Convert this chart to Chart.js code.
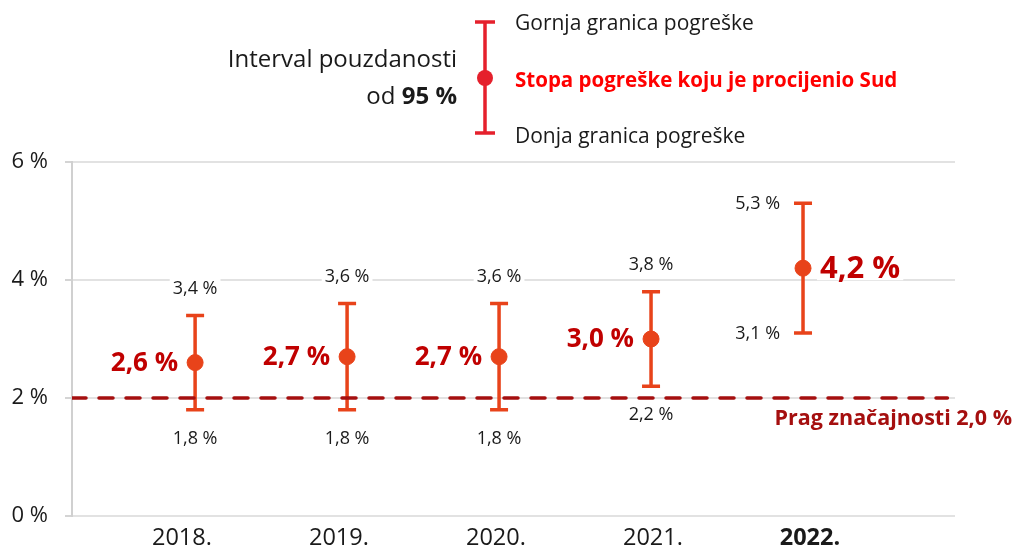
<!DOCTYPE html>
<html>
<head>
<meta charset="utf-8">
<script src="https://cdn.jsdelivr.net/npm/chart.js@4"></script>
<style>
  html, body { margin: 0; padding: 0; background: #fff; }
  canvas { display: block; }
</style>
</head>
<body>
<canvas id="errorRateChart" width="1016" height="548"></canvas>
<script>
// data
const years = ['2018.', '2019.', '2020.', '2021.', '2022.'];
const estimate = [2.6, 2.7, 2.7, 3.0, 4.2];
const lowerLimit = [1.8, 1.8, 1.8, 2.2, 3.1];
const upperLimit = [3.4, 3.6, 3.6, 3.8, 5.3];
const yTicks = [0, 2, 4, 6];
const threshold = 2.0;

const legendTexts = {
    intervalLine1: 'Interval pouzdanosti',
    intervalLine2a: 'od ',
    intervalLine2b: '95 %',
    upper: 'Gornja granica pogreške',
    estimate: 'Stopa pogreške koju je procijenio Sud',
    lower: 'Donja granica pogreške',
    threshold: 'Prag značajnosti 2,0 %'
};

const FONT = "'Open Sans', 'Noto Sans', sans-serif";
const barColor = '#e8431a';
const valueColor = '#c00000';
const thresholdColor = '#a50f0f';
const legendRed = '#e5202c';

// the points and the year labels sit on slightly different spacings in the original
const xMin = -0.81;
const xMax = 5.0;
const labelMin = -0.70;
const labelMax = 4.924;

function fmt(v) {
    return v.toFixed(1).replace('.', ',') + ' %';
}

function labelWithBg(ctx, text, x, y, align, color) {
    const w = ctx.measureText(text).width;
    let left = x;
    if (align === 'center') left = x - w / 2;
    if (align === 'right') left = x - w;
    ctx.fillStyle = '#fff';
    ctx.fillRect(left - 3, y - 11, w + 6, 22);
    ctx.fillStyle = color;
    ctx.textAlign = align;
    ctx.fillText(text, x, y);
}

// error bars under the points, labels on top
const errorBarPlugin = {
    id: 'errorBars',
    beforeDatasetsDraw(chart) {
        const { ctx, scales: { x, y } } = chart;
        ctx.save();
        ctx.strokeStyle = barColor;
        ctx.lineWidth = 3.5;
        years.forEach((yr, i) => {
            const px = x.getPixelForValue(i);
            const top = y.getPixelForValue(upperLimit[i]);
            const bot = y.getPixelForValue(lowerLimit[i]);
            ctx.beginPath();
            ctx.moveTo(px, top);
            ctx.lineTo(px, bot);
            ctx.moveTo(px - 9, top);
            ctx.lineTo(px + 9, top);
            ctx.moveTo(px - 9, bot);
            ctx.lineTo(px + 9, bot);
            ctx.stroke();
        });
        ctx.restore();
    },
    afterDatasetsDraw(chart) {
        const { ctx, scales: { x, y } } = chart;
        ctx.save();
        ctx.textBaseline = 'middle';
        const last = years.length - 1;
        years.forEach((yr, i) => {
            const px = x.getPixelForValue(i);
            const top = y.getPixelForValue(upperLimit[i]);
            const bot = y.getPixelForValue(lowerLimit[i]);
            const mid = y.getPixelForValue(estimate[i]);

            ctx.font = '18px ' + FONT;
            if (i === last) {
                labelWithBg(ctx, fmt(upperLimit[i]), px - 23, top + 1, 'right', '#1a1a1a');
                labelWithBg(ctx, fmt(lowerLimit[i]), px - 23, bot + 1, 'right', '#1a1a1a');
                ctx.font = 'bold 31px ' + FONT;
                labelWithBg(ctx, fmt(estimate[i]), px + 17, mid + 1, 'left', valueColor);
            } else {
                labelWithBg(ctx, fmt(upperLimit[i]), px, top - 27, 'center', '#1a1a1a');
                labelWithBg(ctx, fmt(lowerLimit[i]), px, bot + 29, 'center', '#1a1a1a');
                ctx.font = 'bold 26px ' + FONT;
                labelWithBg(ctx, fmt(estimate[i]), px - 17, mid + 1, 'right', valueColor);
            }
        });

        // threshold label
        ctx.font = 'bold 21.5px ' + FONT;
        ctx.fillStyle = thresholdColor;
        ctx.textAlign = 'right';
        ctx.fillText(legendTexts.threshold, 1012, y.getPixelForValue(threshold) + 21);
        ctx.restore();
    },
    afterDraw(chart) {
        const { ctx } = chart;
        ctx.save();
        ctx.textBaseline = 'middle';

        // legend text on the left
        ctx.fillStyle = '#1a1a1a';
        ctx.textAlign = 'right';
        ctx.font = '24px ' + FONT;
        ctx.fillText(legendTexts.intervalLine1, 457, 60);
        ctx.font = 'bold 24px ' + FONT;
        const boldW = ctx.measureText(legendTexts.intervalLine2b).width;
        ctx.fillText(legendTexts.intervalLine2b, 457, 97);
        ctx.font = '24px ' + FONT;
        ctx.fillText(legendTexts.intervalLine2a, 457 - boldW, 97);

        // legend symbol
        ctx.strokeStyle = legendRed;
        ctx.lineWidth = 3.5;
        ctx.beginPath();
        ctx.moveTo(485, 22);
        ctx.lineTo(485, 133);
        ctx.moveTo(475, 22);
        ctx.lineTo(495, 22);
        ctx.moveTo(475, 133);
        ctx.lineTo(495, 133);
        ctx.stroke();
        ctx.fillStyle = legendRed;
        ctx.beginPath();
        ctx.arc(485, 78, 8, 0, Math.PI * 2);
        ctx.fill();

        // legend labels on the right
        ctx.textAlign = 'left';
        ctx.font = '21px ' + FONT;
        ctx.fillStyle = '#1a1a1a';
        ctx.fillText(legendTexts.upper, 515, 24);
        ctx.fillText(legendTexts.lower, 515, 137);
        ctx.font = 'bold 20.5px ' + FONT;
        ctx.fillStyle = '#ff0000';
        ctx.fillText(legendTexts.estimate, 515, 81);
        ctx.restore();
    }
};

const ctx = document.getElementById('errorRateChart').getContext('2d');
new Chart(ctx, {
    type: 'scatter',
    data: {
        datasets: [
            {
                label: 'estimate',
                data: years.map((yr, i) => ({ x: i, y: estimate[i] })),
                backgroundColor: barColor,
                borderColor: barColor,
                pointRadius: 8,
                pointHoverRadius: 8,
                order: 0
            },
            {
                label: 'threshold',
                type: 'line',
                data: [{ x: xMin, y: threshold }, { x: xMax - 0.05, y: threshold }],
                borderColor: thresholdColor,
                borderWidth: 3.5,
                borderDash: [14, 13],
                borderCapStyle: 'round',
                pointRadius: 0,
                fill: false,
                order: 1
            }
        ]
    },
    options: {
        responsive: false,
        animation: false,
        devicePixelRatio: 1,
        layout: { padding: { left: 0, top: 162, right: 61, bottom: 0 } },
        plugins: {
            legend: { display: false },
            tooltip: { enabled: false }
        },
        scales: {
            x: {
                type: 'linear',
                display: false,
                min: xMin,
                max: xMax
            },
            yearAxis: {
                type: 'linear',
                position: 'bottom',
                min: labelMin,
                max: labelMax,
                afterBuildTicks: axis => { axis.ticks = years.map((yr, i) => ({ value: i })); },
                afterFit: scale => { scale.height = 32; },
                grid: { display: false },
                border: { display: false },
                ticks: {
                    padding: 0,
                    color: '#1a1a1a',
                    font: c => ({ family: FONT, size: 23.5, weight: c.tick && c.tick.value === 4 ? 'bold' : 'normal' }),
                    callback: v => years[v]
                }
            },
            y: {
                min: 0,
                max: 6,
                afterBuildTicks: axis => { axis.ticks = yTicks.map(v => ({ value: v })); },
                afterFit: scale => { scale.width = 72; },
                grid: { color: '#e2e2e2', lineWidth: 2, tickLength: 7, tickColor: '#d4d4d4' },
                border: { display: true, color: '#d0d0d0', width: 2 },
                ticks: {
                    padding: 17,
                    color: '#1a1a1a',
                    font: { family: FONT, size: 22 },
                    callback: v => v + ' %'
                }
            }
        }
    },
    plugins: [errorBarPlugin]
});
</script>
</body>
</html>
